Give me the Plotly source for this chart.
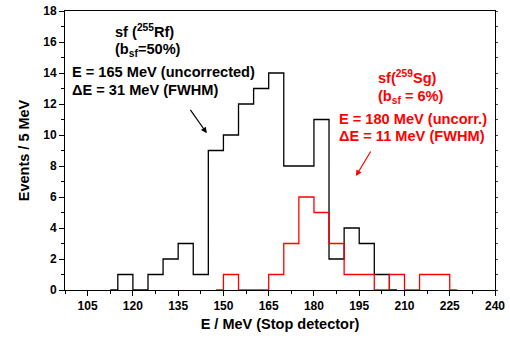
import plotly.graph_objects as go

# Bin centres (5 MeV bins) and counts
rf_centers = [112.5 + 5 * i for i in range(20)]
rf_counts = [0, 1, 0, 1, 2, 3, 1, 9, 10, 12, 13, 14, 8, 8, 11, 2, 4, 3, 1, 0]

sg_centers = [147.5 + 5 * i for i in range(17)]
sg_counts = [0, 1, 0, 0, 1, 3, 6, 5, 3, 1, 1, 0, 1, 0, 1, 1, 0]

x_ticks = [105, 120, 135, 150, 165, 180, 195, 210, 225, 240]
y_ticks = [0, 2, 4, 6, 8, 10, 12, 14, 16, 18]

FONT = "Liberation Sans, Arial, sans-serif"

fig = go.Figure()
fig.add_trace(go.Scatter(x=rf_centers, y=rf_counts, mode="lines",
                         line=dict(shape="hvh", color="black", width=1.3),
                         showlegend=False))
fig.add_trace(go.Scatter(x=sg_centers, y=sg_counts, mode="lines",
                         line=dict(shape="hvh", color="#ff0000", width=1.3),
                         showlegend=False))

def ann(text, x, y, color):
    fig.add_annotation(x=x, y=y, xref="x", yref="y", text=text, showarrow=False,
                       xanchor="left", yanchor="middle",
                       font=dict(family=FONT, size=14.6, color=color))

ann("<b>sf (<sup>255</sup>Rf)</b>", 113.4, 16.7, "black")
ann("<b>(b<sub>sf</sub>=50%)</b>", 113.4, 15.5, "black")
ann("<b>E = 165 MeV (uncorrected)</b>", 99.2, 14.06, "black")
ann("<b>ΔE = 31 MeV (FWHM)</b>", 99.2, 12.9, "black")
ann("<b>sf(<sup>259</sup>Sg)</b>", 200.6, 13.74, "#ff0000")
ann("<b>(b<sub>sf</sub> = 6%)</b>", 200.6, 12.45, "#ff0000")
ann("<b>E = 180 MeV (uncorr.)</b>", 187.6, 11.03, "#ff0000")
ann("<b>ΔE = 11 MeV (FWHM)</b>", 187.6, 9.94, "#ff0000")

fig.add_annotation(x=144.5, y=10.11, ax=138.7, ay=11.72, xref="x", yref="y",
                   axref="x", ayref="y", text="", showarrow=True,
                   arrowhead=2, arrowsize=1, arrowwidth=1.2, arrowcolor="black")
fig.add_annotation(x=193.9, y=7.35, ax=199.1, ay=9.03, xref="x", yref="y",
                   axref="x", ayref="y", text="", showarrow=True,
                   arrowhead=2, arrowsize=1, arrowwidth=1.2, arrowcolor="#ff0000")

fig.update_layout(
    width=510, height=343,
    margin=dict(l=65, r=15, t=11, b=53, autoexpand=False),
    paper_bgcolor="white", plot_bgcolor="white",
    font=dict(family=FONT, size=12, color="black"),
    xaxis=dict(range=[97.5, 240], tickvals=x_ticks, automargin=False,
               ticktext=[f"<b>{v}</b>" for v in x_ticks],
               ticks="outside", ticklen=5, tickwidth=1, tickcolor="black",
               minor=dict(dtick=7.5, tick0=97.5, ticks="outside", ticklen=3, tickcolor="black"),
               showline=True, linecolor="black", linewidth=1, mirror=True,
               showgrid=False, zeroline=False,
               tickfont=dict(size=12),
               title=dict(text="<b>E / MeV (Stop detector)</b>", font=dict(size=14.5), standoff=6)),
    yaxis=dict(range=[0, 18], tickvals=y_ticks, automargin=False,
               ticktext=[f"<b>{v}</b>" for v in y_ticks],
               ticks="outside", ticklen=5, tickwidth=1, tickcolor="black",
               minor=dict(dtick=1, ticks="outside", ticklen=3, tickcolor="black"),
               showline=True, linecolor="black", linewidth=1, mirror=True,
               showgrid=False, zeroline=False,
               tickfont=dict(size=12),
               title=dict(text="<b>Events / 5 MeV</b>", font=dict(size=14.5), standoff=10)),
    yaxis2=dict(range=[0, 18], overlaying="y", side="right", tickvals=y_ticks,
                automargin=False,
                showticklabels=False, ticks="outside", ticklen=2, tickcolor="#444",
                minor=dict(dtick=1, ticks="outside", ticklen=2, tickcolor="#444"),
                showgrid=False, zeroline=False, showline=False),
)
fig.add_trace(go.Scatter(x=[None], y=[None], yaxis="y2", showlegend=False))

fig.write_html("out.html", config={"displayModeBar": False},
               post_script="document.body.style.margin='0';document.body.style.overflow='hidden';")
